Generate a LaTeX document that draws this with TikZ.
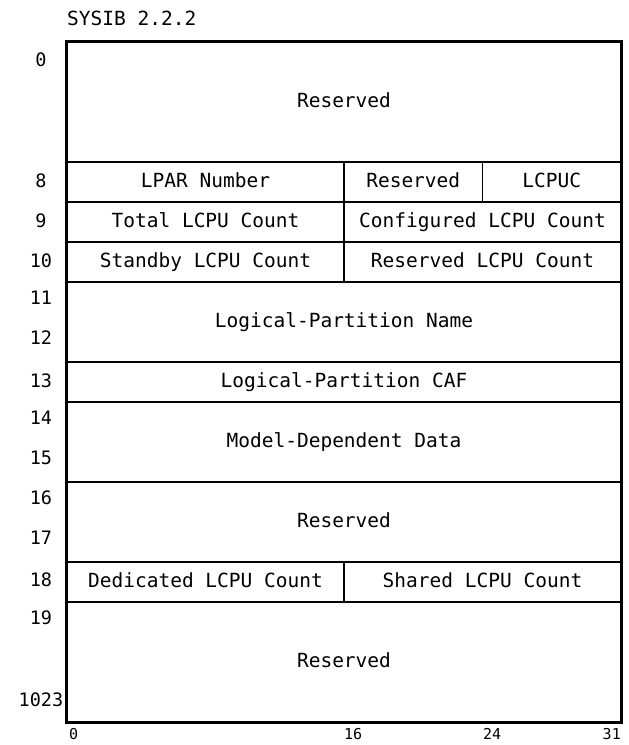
\documentclass[tikz,border=0pt]{standalone}
\usepackage{fontspec}
\usepackage{tikz}
\usetikzlibrary{positioning, calc}
\newfontfamily\blockfont{DejaVu Sans Mono}
\definecolor{framecol}{RGB}{0, 0, 0}

\tikzset{
    field/.style={draw=framecol, line width=1.7pt, inner sep=0pt, text height=14pt, text depth=3pt,
                  font=\blockfont\fontsize{19.5}{21}\selectfont},
    wordlbl/.style={inner sep=0pt, font=\blockfont\fontsize{18.5}{20}\selectfont},
    bitlbl/.style={inner sep=0pt, font=\blockfont\fontsize{15}{17}\selectfont}
}

\begin{document}
\begin{tikzpicture}[x=1pt, y=-1pt]
        \useasboundingbox (0,0) rectangle (629,745);

        % Title
        \node[wordlbl, anchor=west, font=\blockfont\fontsize{19.5}{21}\selectfont] (title) at (67,18) {SYSIB 2.2.2};

        % Words 0-7
        \node[field, minimum width=554pt, minimum height=120pt] (resvA) at (344,102) {Reserved};
        % Word 8
        \node[field, minimum width=277pt, minimum height=40pt] (lparnum) at (205.5,182) {LPAR Number};
        \node[field, minimum width=138.5pt, minimum height=40pt] (resvB) at (413.25,182) {Reserved};
        \node[field, minimum width=138.5pt, minimum height=40pt] (lcpuc) at (551.75,182) {LCPUC};
        % Words 9 and 10
        \node[field, minimum width=277pt, minimum height=40pt] (totcnt) at (205.5,222) {Total LCPU Count};
        \node[field, minimum width=277pt, minimum height=40pt] (cfgcnt) at (482.5,222) {Configured LCPU Count};
        \node[field, minimum width=277pt, minimum height=40pt] (sbycnt) at (205.5,262) {Standby LCPU Count};
        \node[field, minimum width=277pt, minimum height=40pt] (rsvcnt) at (482.5,262) {Reserved LCPU Count};
        % Words 11-17
        \node[field, minimum width=554pt, minimum height=80pt] (lpname) at (344,322) {Logical-Partition Name};
        \node[field, minimum width=554pt, minimum height=40pt] (lpcaf) at (344,382) {Logical-Partition CAF};
        \node[field, minimum width=554pt, minimum height=80pt] (mdd) at (344,442) {Model-Dependent Data};
        \node[field, minimum width=554pt, minimum height=80pt] (resvC) at (344,522) {Reserved};
        % Word 18
        \node[field, minimum width=277pt, minimum height=40pt] (dedcnt) at (205.5,582) {Dedicated LCPU Count};
        \node[field, minimum width=277pt, minimum height=40pt] (shrcnt) at (482.5,582) {Shared LCPU Count};
        % Words 19-1023
        \node[field, minimum width=554pt, minimum height=120pt] (resvD) at (344,662) {Reserved};

        % Outer frame
        \draw[framecol, line width=2.6pt] (resvA.north west) rectangle (resvD.south east);

        % Word offsets
        \foreach \w/\y in {0/60, 8/181, 9/221, 10/261, 11/298, 12/338, 13/381, 14/418,
                           15/458, 16/498, 17/538, 18/580, 19/618, 1023/700}
            \node[wordlbl] (w\w) at (41,\y) {\w};

        % Bit positions
        \node[bitlbl, anchor=west] (b0) at (69,734) {0};
        \node[bitlbl, anchor=west] (b16) at (344,734) {16};
        \node[bitlbl, anchor=west] (b24) at (483,734) {24};
        \node[bitlbl, anchor=east] (b31) at (621,734) {31};
    \end{tikzpicture}
\end{document}
